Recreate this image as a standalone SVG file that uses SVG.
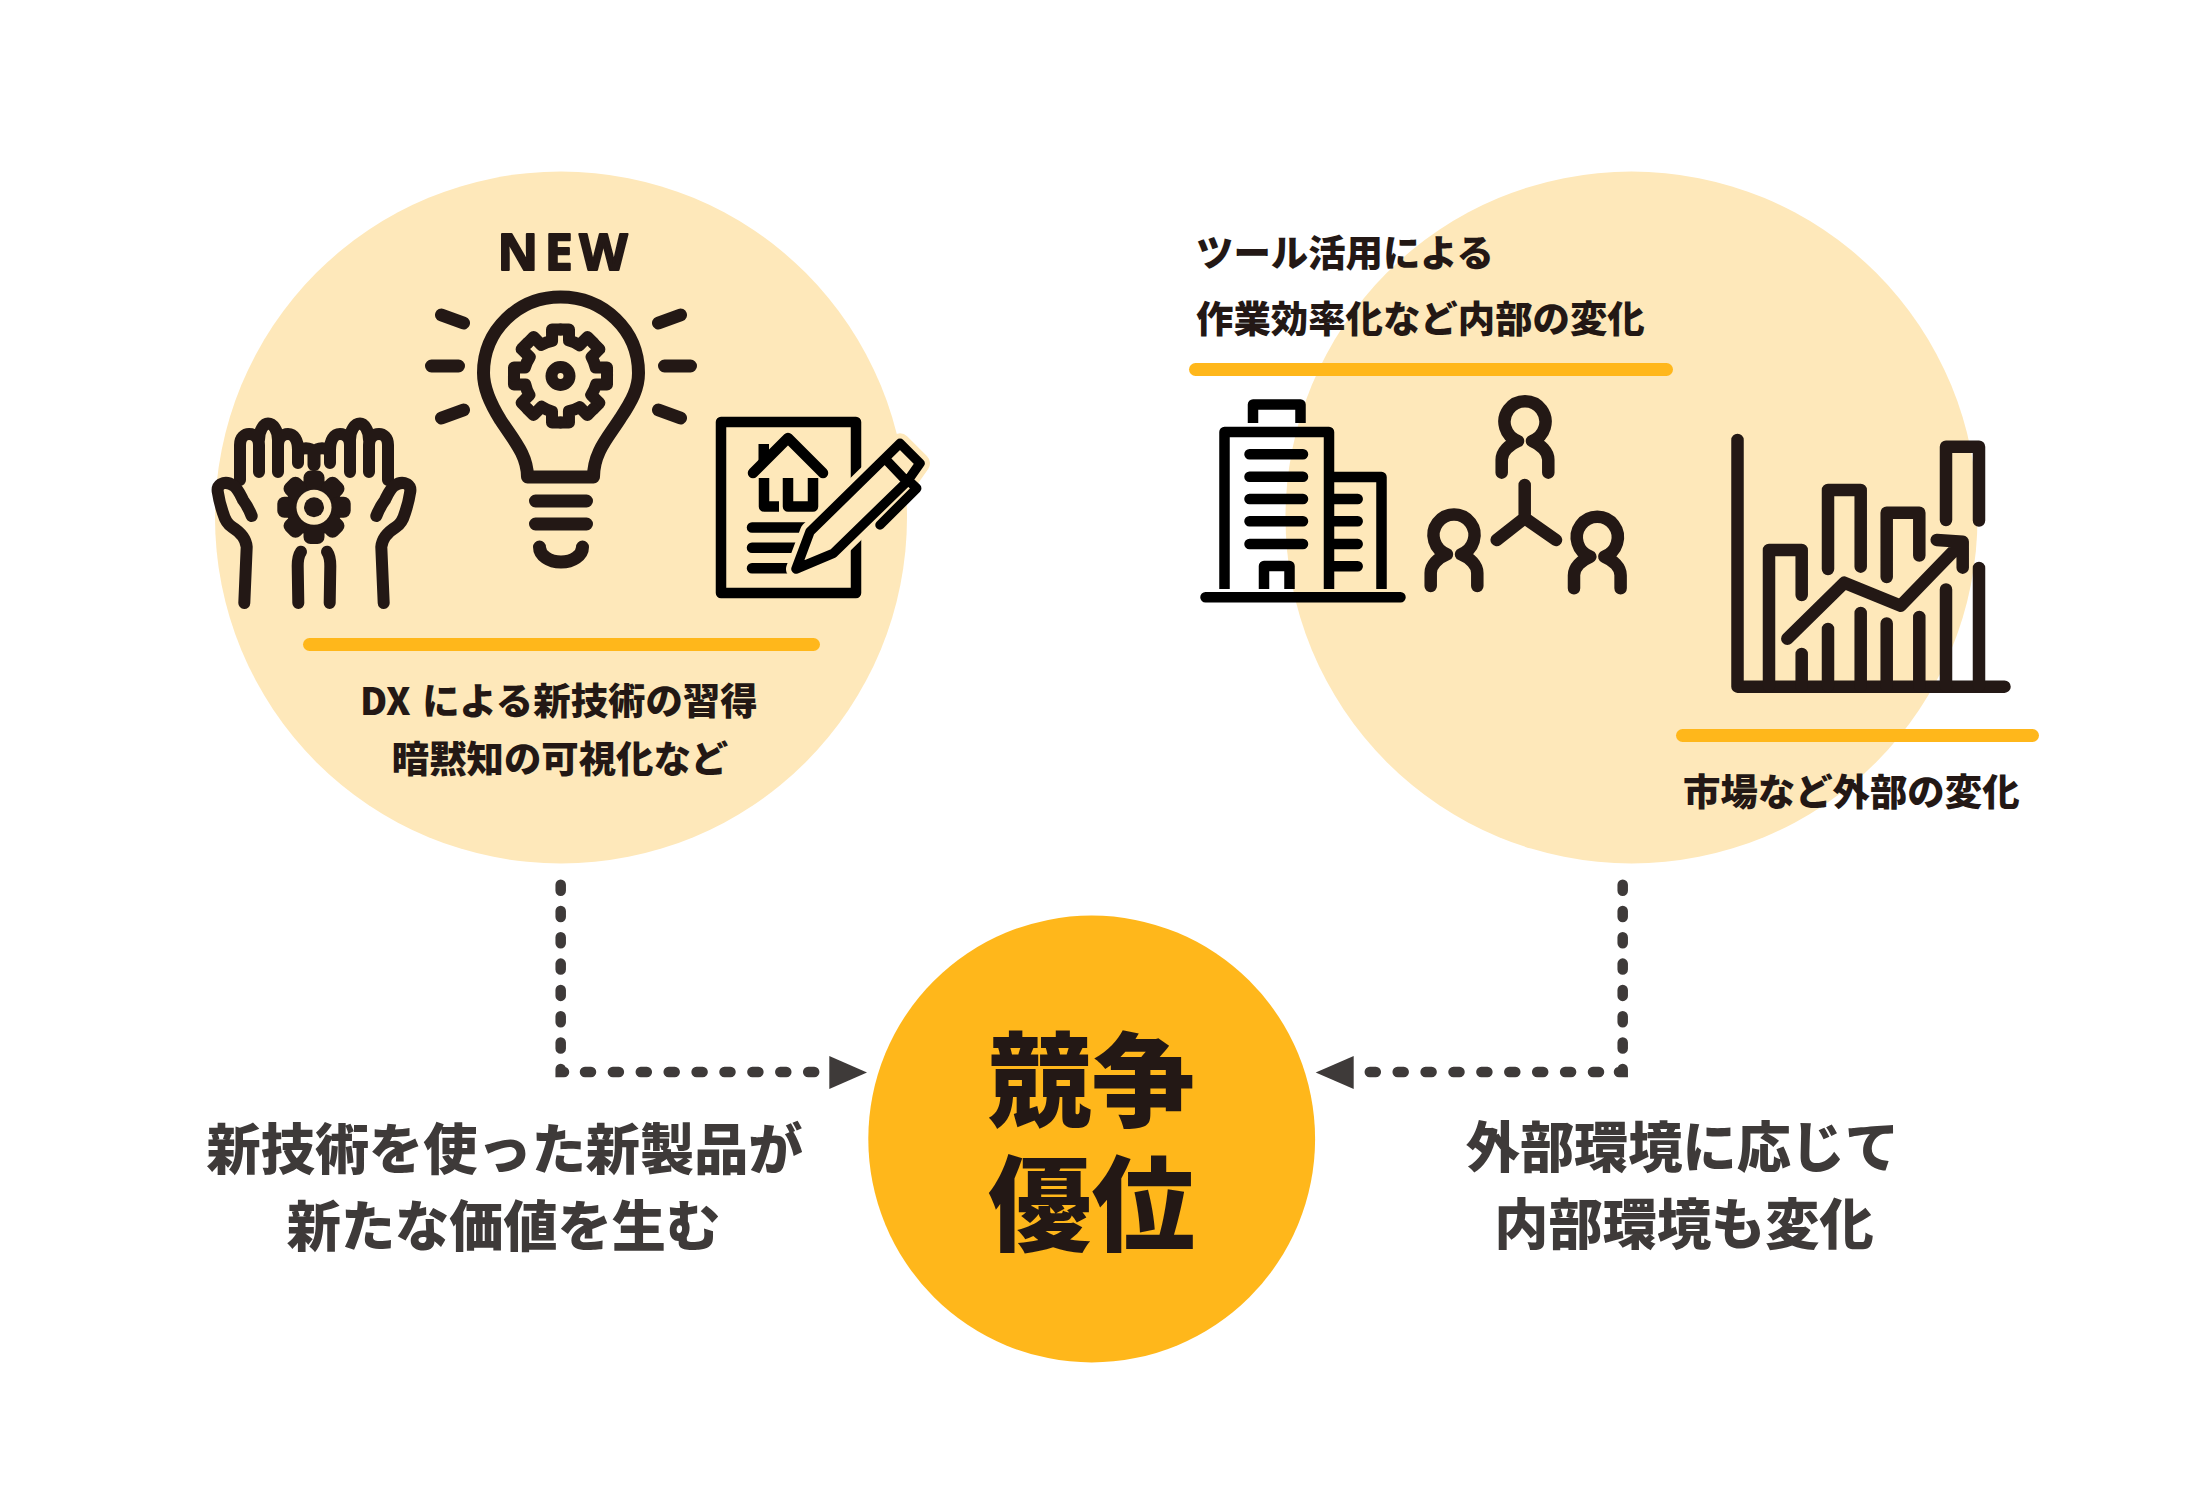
<svg xmlns="http://www.w3.org/2000/svg" width="2185" height="1500" viewBox="0 0 2185 1500">
<style>
text{font-family:"Noto Sans CJK JP","Noto Sans",sans-serif;font-weight:900}
.lab{font-size:37.4px;fill:#231815}
.cap{font-size:54.2px;fill:#3e3a39;text-anchor:middle}
.big{font-size:103.5px;fill:#231815;text-anchor:middle}
.soft{fill:#fee8ba}
.bar{fill:#ffb71b}
.i{fill:none;stroke:#231815;stroke-linecap:round;stroke-linejoin:round}
.k{fill:none;stroke:#000;stroke-linecap:round;stroke-linejoin:round;stroke-width:10.5}
.b{fill:none;stroke:#000;stroke-linecap:butt;stroke-linejoin:round;stroke-width:10.5}
.dash{fill:none;stroke:#3e3a39;stroke-width:10.5;stroke-linecap:round}
.head{fill:#3e3a39}
</style>
<defs>
<path id="seg" d="M0-46.500H8.500V-35.500A36.500 36.500 0 0 1 18.900-30.800L26.900-38.900 32.900-32.900"/>
<path id="person" d="M-23.300 51V38C-23.300 30-16 23-7 19.300A20.500 20.500 0 1 1 7 19.300C16 23 23.300 30 23.300 38V51"/>
<g id="hand">
<path d="M240 480V445C240 437 245 434 249 434 254 434 259 437 259 445V472M259 440C259 430 264 423.500 268 423.500 273 423.500 278 430 278 440V472M278 445C278 438 283 434 288 434 294 434 298 440 298 450V463M298 452C302 447 310 447 313.500 452V465"/>
<path d="M251.700 516C249 509 246 504 243 500 240 494 238 489 234 486 230 483 225 482 221 484 218 486 217 489 218 493 219 500 221 507 223 513 225 520 227 524 232 527 240 532 246 538 246.700 547L244.300 603"/>
<path d="M301 551.700C298 556 297.700 560 297.700 566L298.300 603"/>
</g>
</defs>

<g id="node-new-technology">
<circle class="soft" cx="561" cy="517.500" r="346"/>
<rect class="bar" x="303" y="638" width="517" height="13" rx="6.500"/>
<text x="562.500" y="270" text-anchor="middle" textLength="130" lengthAdjust="spacing" style="font-size:50px;font-weight:700;fill:#231815;stroke:#231815;stroke-width:2;stroke-linejoin:round;font-family:'Noto Sans',sans-serif">NEW</text>
<g id="icon-bulb" class="i" stroke-width="13" transform="translate(-1.500 0)">
<path d="M529 477H595C595 452 610 437 622 418 634 400 640 388 640 373 640 330 605 297 562 297 520 297 485 330 485 373 485 388 491 402 502 420 515 440 529 455 529 477Z"/>
<path d="M433 366H460M666 366H692M443 315L465 323M682 315L660 323M465 410L443 418M660 410L682 418M537 501H588M537 524H588M541 547A21.500 15 0 0 0 584 547"/>
<g transform="translate(562 376)" stroke-width="12">
<use href="#seg"/><use href="#seg" transform="rotate(45)"/><use href="#seg" transform="rotate(90)"/><use href="#seg" transform="rotate(135)"/><use href="#seg" transform="rotate(180)"/><use href="#seg" transform="rotate(225)"/><use href="#seg" transform="rotate(270)"/><use href="#seg" transform="rotate(315)"/>
</g>
<circle cx="562" cy="376" r="9" stroke-width="12"/>
</g>
<g id="icon-hands" class="i" stroke-width="12">
<use href="#hand"/>
<use href="#hand" transform="translate(628 0) scale(-1 1)"/>
<g transform="translate(314 507.300)" stroke="none" fill="#231815">
<circle r="28"/>
<rect x="-10.500" y="-36.700" width="21" height="20" rx="7"/><rect x="-10.500" y="-36.700" width="21" height="20" rx="7" transform="rotate(45)"/><rect x="-10.500" y="-36.700" width="21" height="20" rx="7" transform="rotate(90)"/><rect x="-10.500" y="-36.700" width="21" height="20" rx="7" transform="rotate(135)"/><rect x="-10.500" y="-36.700" width="21" height="20" rx="7" transform="rotate(180)"/><rect x="-10.500" y="-36.700" width="21" height="20" rx="7" transform="rotate(225)"/><rect x="-10.500" y="-36.700" width="21" height="20" rx="7" transform="rotate(270)"/><rect x="-10.500" y="-36.700" width="21" height="20" rx="7" transform="rotate(315)"/>
<circle r="17.500" fill="#fee8ba"/>
<circle r="10"/>
</g>
</g>
<g id="icon-document">
<rect class="k" x="721" y="422" width="135" height="171"/>
<path class="k" d="M753 473L788 438 823 473M752 527.500H815M752 547.700H805M752 568.300H795"/>
<path fill="#000" d="M758.500 444H769V452L758.500 462Z"/>
<path class="b" d="M764 478V506.500H779M788 478V506.500H813V478"/>
<path class="k" d="M796 569L810 531.700 900 443.300 920 463.300 907 481.700 833.300 553.300Z" style="fill:#fee8ba;stroke:#fee8ba;stroke-width:20"/>
<path class="k" style="stroke-width:9.500" d="M796 569L810 531.700 900 443.300 920 463.300 907 481.700 833.300 553.300ZM888 461.700L907 481.700M909 481L916.700 488.300 880 525"/>
</g>
<text class="lab" x="360" y="715" word-spacing="3">DX による新技術の習得</text>
<text class="lab" x="560" y="773" text-anchor="middle">暗黙知の可視化など</text>
</g>

<g id="node-change">
<circle class="soft" cx="1631.500" cy="517.500" r="346"/>
<rect class="bar" x="1189" y="363" width="484" height="13" rx="6.500"/>
<rect class="bar" x="1676" y="729" width="363" height="13" rx="6.500"/>
<text class="lab" x="1196" y="267">ツール活用による</text>
<text class="lab" x="1196" y="333">作業効率化など内部の変化</text>
<g id="icon-buildings">
<path class="b" d="M1224.500 589V432H1329V589M1253 423V404.500H1300.500V423M1264 589V566H1289.500V589M1334 477H1381.500V589"/>
<path class="k" d="M1249.500 454.300H1303M1249.500 476.700H1303M1249.500 499H1303M1249.500 521.300H1303M1249.500 544H1303M1205.500 597.300H1400.500M1334 499H1357.700M1334 521.300H1357.700M1334 544H1357.700M1334 566.300H1357.700"/>
</g>
<g id="icon-people" class="i" stroke-width="12.500">
<use href="#person" x="1525" y="421.700"/>
<use href="#person" x="1454" y="535"/>
<use href="#person" x="1597.300" y="537.300"/>
<path d="M1524.700 485V518L1496.700 540M1524.700 518L1556 540"/>
</g>
<g id="icon-chart" class="i" stroke-width="12.500">
<path d="M1737.500 440V686.700H2004.500"/>
<path d="M1769 686V550H1801.700V595M1801.700 654V686M1828 569V490H1860.700V566.700M1828 629V686M1860.700 613V686M1886.700 577V512.700H1919.300V555.500M1886.700 623.500V686M1919.300 617V686M1946 520V446.700H1979V520.500M1946 589.500V686M1979 568V686"/>
<path d="M1787.300 638.700L1844.300 582.700 1900.700 605.700 1962.700 541.700M1936.700 540L1962.700 541.700V567.700"/>
</g>
<text class="lab" x="1683" y="806">市場など外部の変化</text>
</g>

<g id="node-advantage">
<circle class="bar" cx="1091.700" cy="1139" r="223.400"/>
<text class="big" x="1091.500" y="1119">競争</text>
<text class="big" x="1091.500" y="1243">優位</text>
</g>

<g id="node-caption-left">
<text class="cap" x="504.600" y="1169">新技術を使った新製品が</text>
<text class="cap" x="503.500" y="1245.500">新たな価値を生む</text>
</g>
<g id="node-caption-right">
<text class="cap" x="1682.500" y="1167">外部環境に応じて</text>
<text class="cap" x="1684" y="1244">内部環境も変化</text>
</g>

<g id="connectors">
<g id="connector-left">
<path class="dash" stroke-dasharray="6 20.300" d="M560.700 884.700V1049"/>
<path class="dash" d="M560.700 1069V1072H564"/>
<path class="dash" stroke-dasharray="6 21.900" d="M585 1072H815"/>
<path class="head" d="M829.300 1056L867 1072.500 829.300 1089Z"/>
</g>
<g id="connector-right">
<path class="dash" stroke-dasharray="6 20.300" d="M1622.700 884.700V1049"/>
<path class="dash" d="M1622.700 1069V1072H1619"/>
<path class="dash" stroke-dasharray="6 21.900" d="M1599 1072H1369"/>
<path class="head" d="M1353.700 1056L1315.700 1072.500 1353.700 1089Z"/>
</g>
</g>
</svg>
